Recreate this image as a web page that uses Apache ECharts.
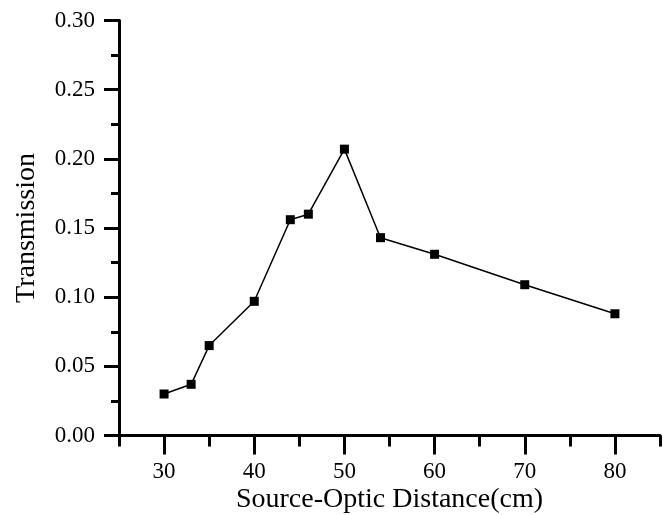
<!DOCTYPE html>
<html>
<head>
<meta charset="utf-8">
<script src="https://cdn.jsdelivr.net/npm/echarts@6/dist/echarts.min.js"></script>
<style>
html,body{margin:0;padding:0;background:#fff;}
#chart{width:663px;height:515px;}
</style>
</head>
<body>
<div id="chart"></div>
<script>
const distances = [30, 33, 35, 40, 44, 46, 50, 54, 60, 70, 80];
const transmission = [0.030, 0.037, 0.065, 0.097, 0.156, 0.160, 0.207, 0.143, 0.131, 0.109, 0.088];
const xMajorTicks = [30, 40, 50, 60, 70, 80];
const xTitle = 'Source-Optic Distance(cm)';
const yTitle = 'Transmission';

const font = 'Liberation Serif';
const chart = echarts.init(document.getElementById('chart'), null, {renderer: 'canvas'});
chart.setOption({
  backgroundColor: '#fff',
  animation: false,
  grid: {left: 119, right: 3, top: 20.5, bottom: 79.5, containLabel: false, outerBoundsMode: 'none'},
  xAxis: [{
    type: 'value', min: 25, max: 85, position: 'bottom',
    name: xTitle, nameLocation: 'middle', nameGap: 50, nameMoveOverlap: false,
    nameTextStyle: {fontFamily: font, fontSize: 28, color: '#000'},
    axisLine: {show: true, lineStyle: {color: '#000', width: 3}},
    axisTick: {show: true, length: 19, lineStyle: {color: '#000', width: 3}, customValues: xMajorTicks},
    axisLabel: {show: true, margin: 25, fontFamily: font, fontSize: 23, color: '#000', customValues: xMajorTicks},
    splitLine: {show: false}
  }, {
    type: 'value', min: 25, max: 85, interval: 5, position: 'bottom',
    axisLine: {show: false},
    axisTick: {show: true, length: 11, lineStyle: {color: '#000', width: 3}},
    axisLabel: {show: false},
    splitLine: {show: false}
  }],
  yAxis: {
    type: 'value', min: 0, max: 0.3, interval: 0.05,
    name: yTitle, nameLocation: 'middle', nameGap: 78, nameRotate: 90, nameMoveOverlap: false,
    nameTextStyle: {fontFamily: font, fontSize: 28, color: '#000'},
    axisLine: {show: true, lineStyle: {color: '#000', width: 3}},
    axisTick: {show: true, length: 15, lineStyle: {color: '#000', width: 3}},
    minorTick: {show: true, splitNumber: 2, length: 8, lineStyle: {color: '#000', width: 3}},
    axisLabel: {margin: 24, fontFamily: font, fontSize: 23, color: '#000',
      formatter: v => v.toFixed(2)},
    splitLine: {show: false}
  },
  series: [{
    type: 'line',
    xAxisIndex: 0,
    data: distances.map((d, i) => [d, transmission[i]]),
    symbol: 'rect', symbolSize: 9,
    itemStyle: {color: '#000'},
    lineStyle: {color: '#000', width: 1.5}
  }]
});
</script>
</body>
</html>
